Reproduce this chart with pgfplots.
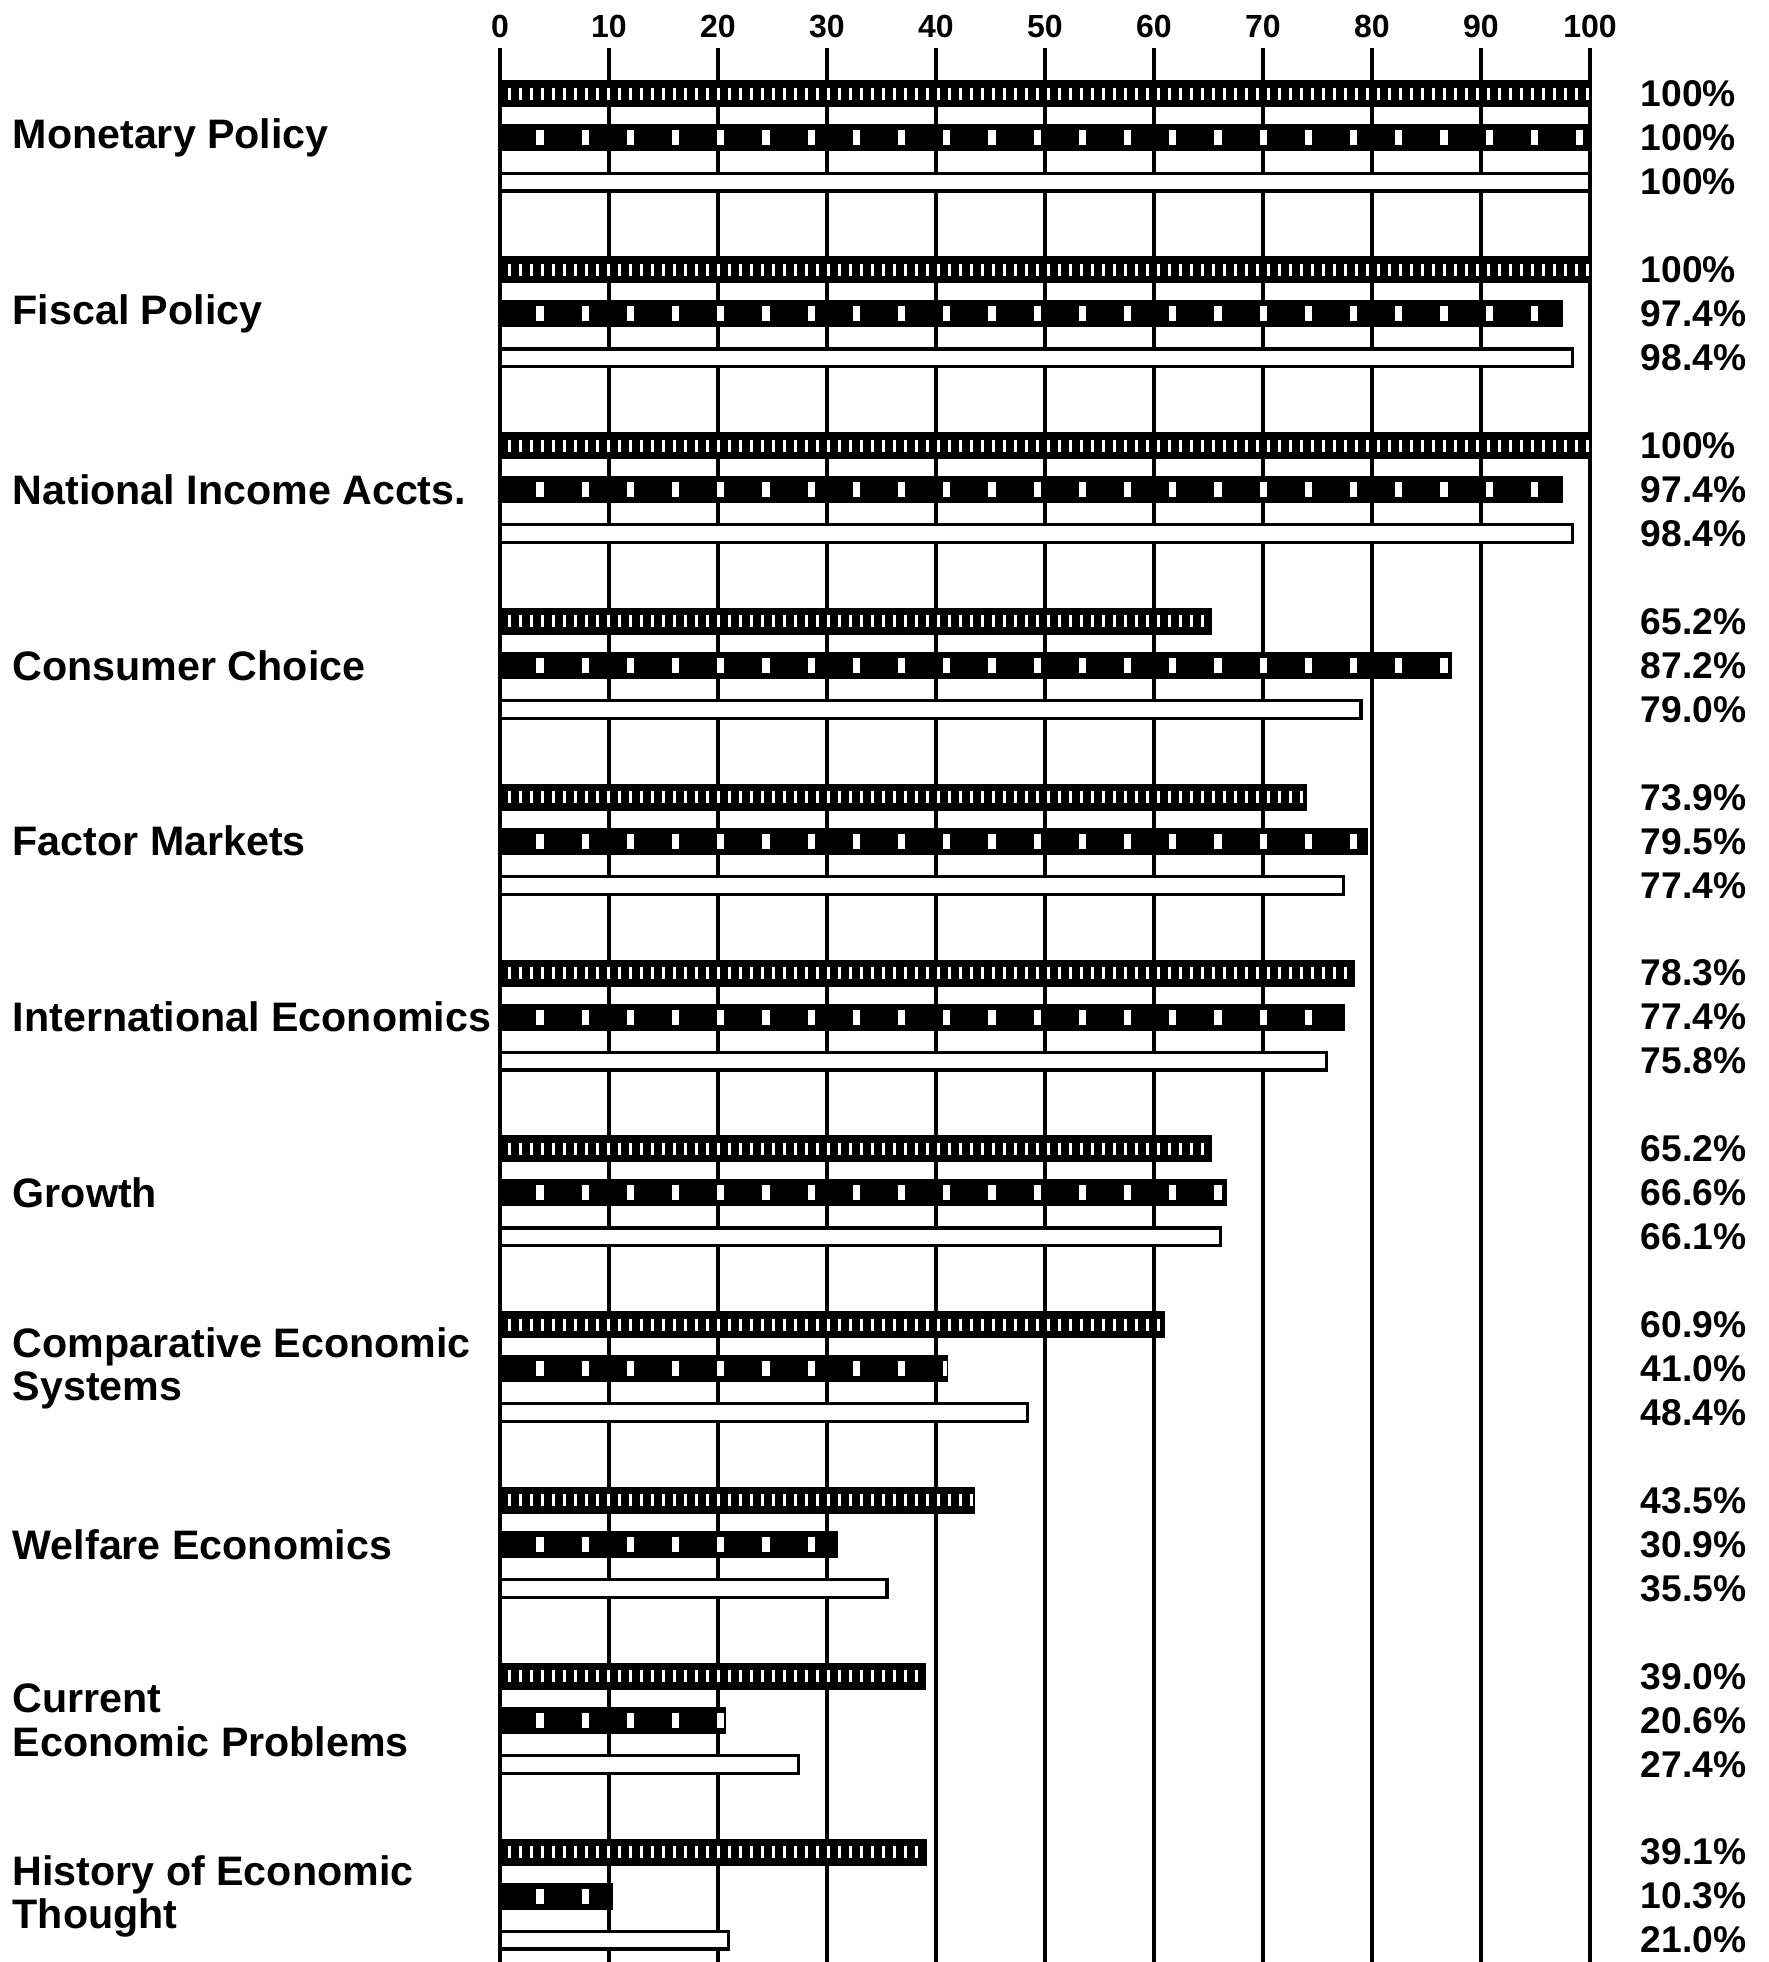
\documentclass[border=0pt]{standalone}
\usepackage{pgfplots}
\pgfplotsset{compat=1.18}
\usepackage{pgfplotstable}
\usepackage{fontspec}
\setmainfont{Liberation Sans}

\pgfplotstableread{
y a b c la lb lc
10 100 100 100 100 100 100
9 100 97.4 98.4 100 97.4 98.4
8 100 97.4 98.4 100 97.4 98.4
7 65.2 87.2 79.0 65.2 87.2 79.0
6 73.9 79.5 77.4 73.9 79.5 77.4
5 78.3 77.4 75.8 78.3 77.4 75.8
4 65.2 66.6 66.1 65.2 66.6 66.1
3 60.9 41.0 48.4 60.9 41.0 48.4
2 43.5 30.9 35.5 43.5 30.9 35.5
1 39.0 20.6 27.4 39.0 20.6 27.4
0 39.1 10.3 21.0 39.1 10.3 21.0
}\data

\begin{document}
\begin{tikzpicture}
\path[use as bounding box] (-125pt,0pt) rectangle (317.25pt,490.5pt);
\begin{axis}[
  at={(0pt,0pt)}, anchor=south west,
  scale only axis, width=272.5pt, height=478.5pt,
  xmin=0, xmax=100, ymin=-0.375, ymax=10.512,
  clip=false,
  axis line style={draw=none},
  xtick={0,10,...,100},
  xticklabel pos=upper,
  xmajorgrids,
  grid style={black, line width=0.8pt},
  major tick length=0pt,
  /pgf/number format/assume math mode=true,
  xticklabel style={font=\fontsize{8}{9}\selectfont\bfseries, inner sep=0pt, yshift=2.4pt},
  ytick={0,...,10},
  yticklabels={{History of Economic\\Thought}, {Current\\Economic  Problems}, {Welfare Economics}, {Comparative Economic\\Systems}, Growth, {International Economics}, {Factor Markets}, {Consumer Choice}, {National Income Accts.}, {Fiscal Policy}, {Monetary Policy}},
  yticklabel style={anchor=west, align=left, inner sep=0pt, xshift=-122pt, font=\fontsize{10.3}{10.8}\selectfont\bfseries},
]
\addplot[xbar, bar width=6.15pt, bar shift=11pt, fill=black, draw=black, line width=0.6pt] table[x=a, y=y] {\data};
\addplot[xbar, bar width=6.15pt, bar shift=0pt, fill=black, draw=black, line width=0.6pt] table[x=b, y=y] {\data};
\addplot[xbar, bar width=4.45pt, bar shift=-11pt, fill=white, draw=black, line width=0.8pt] table[x=c, y=y] {\data};
\addplot[xcomb, mark=none, draw=white, line width=3pt, dash pattern=on 0pt off 2.05pt on 0.7pt off 0pt] table[x=a, y expr=\thisrow{y}+0.2503] {\data};
\addplot[xcomb, mark=none, draw=white, line width=3.75pt, dash pattern=on 0pt off 9.1pt on 1.8pt off 0.4pt] table[x=b, y=y] {\data};
\addplot[draw=none, mark=none, nodes near coords={\pgfplotspointmeta\%}, point meta=explicit symbolic,
  every node near coord/.append style={anchor=west, inner sep=0pt, font=\fontsize{9.3}{10}\selectfont\bfseries}]
  table[x expr=104.6, y expr=\thisrow{y}+0.2503, meta=la] {\data};
\addplot[draw=none, mark=none, nodes near coords={\pgfplotspointmeta\%}, point meta=explicit symbolic,
  every node near coord/.append style={anchor=west, inner sep=0pt, font=\fontsize{9.3}{10}\selectfont\bfseries}]
  table[x expr=104.6, y=y, meta=lb] {\data};
\addplot[draw=none, mark=none, nodes near coords={\pgfplotspointmeta\%}, point meta=explicit symbolic,
  every node near coord/.append style={anchor=west, inner sep=0pt, font=\fontsize{9.3}{10}\selectfont\bfseries}]
  table[x expr=104.6, y expr=\thisrow{y}-0.2503, meta=lc] {\data};
\end{axis}
\end{tikzpicture}
\end{document}
